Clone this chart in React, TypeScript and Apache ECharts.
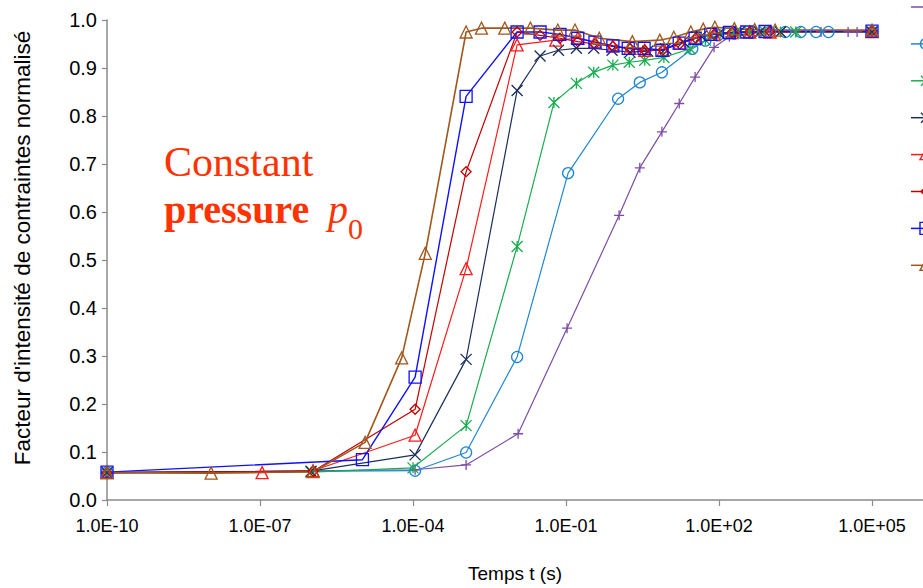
import React, { useEffect, useRef } from "react";
import * as echarts from "echarts";

// time in seconds, normalised stress intensity factor
const purpleT = [1e-10, 1.1e-4, 1.1e-3, 1.15e-2, 0.105, 1.1, 2.8, 7.6, 16.6, 34, 80, 160, 400, 1e3, 3.2e3, 1e4, 3.4e4, 5.1e4, 1e5];
const purpleV = [0.057, 0.063, 0.073, 0.138, 0.358, 0.593, 0.692, 0.767, 0.826, 0.881, 0.943, 0.965, 0.972, 0.974, 0.975, 0.975, 0.975, 0.975, 0.975];

const circleT = [1e-10, 1.1e-4, 1.1e-3, 1.1e-2, 0.11, 1.05, 2.8, 7.6, 30, 54, 95, 200, 450, 1e3, 2e3, 4e3, 8e3, 1.4e4, 1e5];
const circleV = [0.057, 0.061, 0.099, 0.298, 0.681, 0.836, 0.870, 0.891, 0.940, 0.957, 0.968, 0.972, 0.974, 0.975, 0.975, 0.975, 0.975, 0.975, 0.975];

const starT = [1e-10, 1e-6, 1e-4, 1.1e-3, 1.1e-2, 5.8e-2, 0.16, 0.35, 0.83, 1.74, 3.5, 8.3, 27, 54, 105, 200, 400, 800, 1.6e3, 3.2e3, 1e5];
const starV = [0.057, 0.058, 0.067, 0.155, 0.528, 0.828, 0.868, 0.891, 0.906, 0.912, 0.916, 0.922, 0.940, 0.958, 0.970, 0.973, 0.975, 0.975, 0.975, 0.975, 0.975];

const crossT = [1e-10, 1e-6, 1.1e-4, 1.1e-3, 1.1e-2, 3.1e-2, 7.1e-2, 0.16, 0.35, 0.8, 1.8, 4, 9, 20, 45, 100, 250, 630, 1.6e3, 1e5];
const crossV = [0.057, 0.060, 0.094, 0.293, 0.853, 0.925, 0.937, 0.941, 0.941, 0.937, 0.933, 0.935, 0.940, 0.955, 0.966, 0.972, 0.975, 0.975, 0.975, 0.975];

const triT = [1e-10, 1.1e-7, 1.1e-6, 1.1e-4, 1.1e-3, 1.1e-2, 6.3e-2, 0.17, 0.37, 0.83, 1.8, 3.5, 8, 17, 35, 80, 180, 400, 1e3, 1e5];
const triV = [0.057, 0.057, 0.061, 0.135, 0.482, 0.948, 0.958, 0.962, 0.954, 0.946, 0.941, 0.937, 0.937, 0.952, 0.962, 0.970, 0.974, 0.975, 0.975, 0.976];

const diamondT = [1e-10, 1.1e-6, 1.1e-4, 1.1e-3, 1.1e-2, 3.1e-2, 7.6e-2, 0.17, 0.37, 0.83, 1.8, 3.5, 8, 17, 35, 80, 180, 400, 1e3, 1e5];
const diamondV = [0.057, 0.060, 0.189, 0.684, 0.975, 0.968, 0.962, 0.955, 0.950, 0.945, 0.940, 0.937, 0.938, 0.950, 0.962, 0.970, 0.974, 0.975, 0.976, 0.977];

const squareT = [1e-10, 1.02e-5, 1.1e-4, 1.1e-3, 1.1e-2, 3.1e-2, 7.6e-2, 0.17, 0.37, 0.83, 1.66, 3.4, 7.6, 16.6, 34, 69, 160, 350, 800, 1e5];
const squareV = [0.058, 0.084, 0.256, 0.841, 0.975, 0.975, 0.970, 0.962, 0.954, 0.946, 0.941, 0.941, 0.937, 0.952, 0.962, 0.970, 0.974, 0.975, 0.976, 0.977];

const brownT = [1e-10, 1.1e-8, 1.1e-6, 1.15e-5, 6e-5, 1.74e-4, 1.1e-3, 2.2e-3, 6.3e-3, 2e-2, 6.9e-2, 0.15, 0.45, 2, 6.9, 13, 28, 49, 83, 200, 500, 1.26e3, 1e5];
const brownV = [0.057, 0.056, 0.059, 0.120, 0.296, 0.514, 0.975, 0.983, 0.983, 0.983, 0.979, 0.979, 0.962, 0.955, 0.958, 0.964, 0.975, 0.981, 0.985, 0.982, 0.980, 0.979, 0.979];

const yTicks = [0, 0.1, 0.2, 0.3, 0.4, 0.5, 0.6, 0.7, 0.8, 0.9, 1.0];
const X_OFFSET = 10; // axis position = log10(t) + 10, so 1.0E-10 sits at 0

const SYM_PLUS = "path://M5,0L5,10M0,5L10,5";
const SYM_X = "path://M0,0L10,10M10,0L0,10";
const SYM_STAR = "path://M5,0L5,10M0,0L10,10M10,0L0,10";

const seriesDefs = [
  { name: "Série 1", t: purpleT, v: purpleV, color: "#7d4ca6", symbol: SYM_PLUS, key: "plus", size: 10, width: 1.2 },
  { name: "Série 2", t: circleT, v: circleV, color: "#1f86d4", symbol: "circle", key: "circle", size: 11, width: 1.2 },
  { name: "Série 3", t: starT, v: starV, color: "#19ad50", symbol: SYM_STAR, key: "star", size: 11, width: 1.2 },
  { name: "Série 4", t: crossT, v: crossV, color: "#1b2f5c", symbol: SYM_X, key: "x", size: 11, width: 1.2 },
  { name: "Série 5", t: triT, v: triV, color: "#ff1a1a", symbol: "triangle", key: "triangle", size: 12, width: 1.2 },
  { name: "Série 6", t: diamondT, v: diamondV, color: "#c40000", symbol: "diamond", key: "diamond", size: 10, width: 1.2 },
  { name: "Série 7", t: squareT, v: squareV, color: "#1010ff", symbol: "rect", key: "rect", size: 12, width: 1.4 },
  { name: "Série 8", t: brownT, v: brownV, color: "#a0581e", symbol: "triangle", key: "triangle", size: 12, width: 1.6 },
];

const xLabel = (val: number) => {
  const r = Math.round(val);
  if (Math.abs(val - r) > 1e-6 || r % 3 !== 0) return "";
  const e = r - X_OFFSET;
  const sign = e < 0 ? "-" : "+";
  return `1.0E${sign}${String(Math.abs(e)).padStart(2, "0")}`;
};

// legend keys (the legend is cut off by the right edge of the picture)
const legendKey = (key: string, color: string, y: number) => {
  const x0 = 911;
  const cx = 926;
  const stroke = { stroke: color, lineWidth: 1.4, fill: "none" };
  const els: any[] = [{ type: "line", shape: { x1: x0, y1: y, x2: cx + 10, y2: y }, style: { stroke: color, lineWidth: 1.5 } }];
  if (key === "circle") els.push({ type: "circle", shape: { cx, cy: y, r: 5.5 }, style: stroke });
  if (key === "rect") els.push({ type: "rect", shape: { x: cx - 6, y: y - 6, width: 12, height: 12 }, style: stroke });
  if (key === "triangle") els.push({ type: "polygon", shape: { points: [[cx, y - 6], [cx + 6, y + 5], [cx - 6, y + 5]] }, style: stroke });
  if (key === "diamond") els.push({ type: "polygon", shape: { points: [[cx, y - 5], [cx + 5, y], [cx, y + 5], [cx - 5, y]] }, style: stroke });
  if (key === "x" || key === "star") {
    els.push({ type: "line", shape: { x1: cx - 5, y1: y - 5, x2: cx + 5, y2: y + 5 }, style: stroke });
    els.push({ type: "line", shape: { x1: cx - 5, y1: y + 5, x2: cx + 5, y2: y - 5 }, style: stroke });
  }
  if (key === "plus" || key === "star") els.push({ type: "line", shape: { x1: cx, y1: y - 5, x2: cx, y2: y + 5 }, style: stroke });
  return els;
};

export default function App() {
  const ref = useRef<HTMLDivElement>(null);
  useEffect(() => {
    if (!ref.current) return;
    const chart = echarts.init(ref.current, undefined, { renderer: "svg" });
    const series = seriesDefs.map((s) => ({
      name: s.name,
      type: "line",
      data: s.t.map((t, i) => [Math.log10(t) + X_OFFSET, s.v[i]]),
      symbol: s.symbol,
      symbolSize: s.size,
      showAllSymbol: true,
      lineStyle: { color: s.color, width: s.width },
      itemStyle: { color: "transparent", borderColor: s.color, borderWidth: 1.3 },
      emphasis: { disabled: true },
      silent: true,
      clip: false,
    }));
    const legendEls = seriesDefs.flatMap((s, i) => legendKey(s.key, s.color, 7 + i * 36.9));
    chart.setOption({
      animation: false,
      backgroundColor: "#ffffff",
      grid: { left: 107, right: 0, top: 20, bottom: 85, containLabel: false },
      xAxis: {
        type: "value",
        min: 0,
        max: 16,
        interval: 3,
        name: "Temps t (s)",
        nameLocation: "middle",
        nameGap: 64,
        nameTextStyle: { fontFamily: "Liberation Sans", fontSize: 19, color: "#000" },
        axisLine: { lineStyle: { color: "#8a8a8a", width: 1.5 } },
        axisTick: { show: true, length: 6, lineStyle: { color: "#8a8a8a", width: 1.2 } },
        axisLabel: { formatter: xLabel, margin: 17, fontFamily: "Liberation Sans", fontSize: 18, color: "#000", showMaxLabel: false },
        splitLine: { show: false },
      },
      yAxis: {
        type: "value",
        min: 0,
        max: 1,
        interval: 0.1,
        axisLine: { show: true, lineStyle: { color: "#8a8a8a", width: 1.5 } },
        axisTick: { show: true, length: 5, lineStyle: { color: "#8a8a8a", width: 1.2 } },
        axisLabel: {
          formatter: (v: number) => (yTicks.some((t) => Math.abs(t - v) < 1e-6) ? v.toFixed(1) : ""),
          margin: 10,
          fontFamily: "Liberation Sans",
          fontSize: 20,
          color: "#000",
        },
        splitLine: { show: false },
      },
      graphic: [
        ...legendEls,
        {
          type: "text",
          x: 22,
          y: 248,
          rotation: Math.PI / 2,
          style: {
            text: "Facteur d'intensité de contraintes normalisé",
            fontFamily: "Liberation Sans",
            fontSize: 22.5,
            fill: "#000",
            align: "center",
            verticalAlign: "middle",
          },
        },
        {
          type: "text",
          x: 164,
          y: 162,
          style: { text: "Constant", fontFamily: "Liberation Serif", fontSize: 42, fill: "#ff3300", align: "left", verticalAlign: "middle" },
        },
        {
          type: "text",
          x: 164,
          y: 209,
          style: { text: "pressure", fontFamily: "Liberation Serif", fontWeight: "bold", fontSize: 40, fill: "#ff3300", align: "left", verticalAlign: "middle" },
        },
        {
          type: "text",
          x: 328,
          y: 209,
          style: { text: "p", fontFamily: "Liberation Serif", fontStyle: "italic", fontSize: 40, fill: "#ff3300", align: "left", verticalAlign: "middle" },
        },
        {
          type: "text",
          x: 348,
          y: 228,
          style: { text: "0", fontFamily: "Liberation Serif", fontSize: 30, fill: "#ff3300", align: "left", verticalAlign: "middle" },
        },
      ],
      series,
    });
    return () => chart.dispose();
  }, []);
  return <div ref={ref} style={{ position: "fixed", left: 0, top: 0, width: 923, height: 588 }} />;
}
